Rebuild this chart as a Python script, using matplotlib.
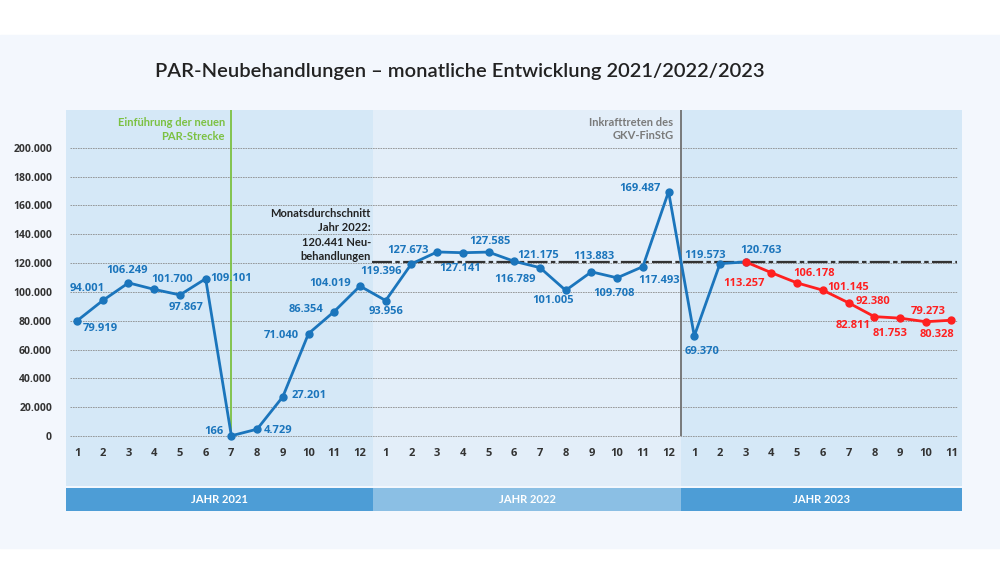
import matplotlib.pyplot as plt
from matplotlib.patches import Rectangle

plt.rcParams['font.family'] = ['Lato', 'DejaVu Sans']
BOLD_FONT = ['Open Sans', 'DejaVu Sans']

# monthly values (PAR-Neubehandlungen)
values_2021 = [79919, 94001, 106249, 101700, 97867, 109101, 166, 4729, 27201, 71040, 86354, 104019]
values_2022 = [93956, 119396, 127673, 127141, 127585, 121175, 116789, 101005, 113883, 109708, 117493, 169487]
values_2023 = [69370, 119573, 120763, 113257, 106178, 101145, 92380, 82811, 81753, 79273, 80328]
months = list(range(1, 13)) + list(range(1, 13)) + list(range(1, 12))
years = ['JAHR 2021', 'JAHR 2022', 'JAHR 2023']
mean_2022 = 120441
y_ticks = [0, 20000, 40000, 60000, 80000, 100000, 120000, 140000, 160000, 180000, 200000]

# label offsets in pixels (dx, dy) relative to the point
blue_offsets = [(23, -8), (-16, 12), (-1, 12), (18, 10), (6, -13), (26, 0),
                (-17, 4), (21, -1), (26, 1), (-27, -2), (-28, 2), (-30, 3),
                (0, -11), (-30, -8), (-29, 1), (-3, -16), (1, 11), (24, 6),
                (-25, -12), (-13, -10), (2, 15), (-3, -16), (16, -14), (-29, 3),
                (8, -16), (-15, 8), (15, 11)]
red_offsets = [(-27, -11), (17, 9), (25, 3), (24, 1), (-21, -9), (-10, -15), (2, 10), (-15, -14)]

BLUE = '#1b75bc'
RED = '#ff2020'


def fmt(v):
    return '{:,}'.format(v).replace(',', '.')


blue_vals = values_2021 + values_2022 + values_2023[:3]
blue_x = list(range(len(blue_vals)))
red_vals = values_2023[2:]
red_x = list(range(len(blue_vals) - 1, len(months)))

fig = plt.figure(figsize=(10, 5.63), dpi=100)
fig.patches.append(Rectangle((0, 15 / 563), 1, 513 / 563, transform=fig.transFigure,
                             color='#f3f7fd', zorder=-10))
fig.text(0.46, 1 - 72 / 563, 'PAR-Neubehandlungen \u2013 monatliche Entwicklung 2021/2022/2023',
         ha='center', va='center', fontsize=14.5, fontweight='semibold', color='#222222')

x_lo, x_hi = -0.43, 34.41
ax = fig.add_axes([0.066, (563 - 486) / 563, 0.896, 376 / 563])
ax.set_facecolor('none')
ax.set_xlim(x_lo, x_hi)
ax.set_ylim(-34690, 226150)
for s in ax.spines.values():
    s.set_visible(False)

ax.axvspan(x_lo, 11.5, color='#d5e8f7', lw=0, zorder=0)
ax.axvspan(11.5, 23.5, color='#e3eef9', lw=0, zorder=0)
ax.axvspan(23.5, x_hi, color='#d5e8f7', lw=0, zorder=0)

ax.hlines(y_ticks, -0.27, 34.2, colors='#8c8c8c', linestyles=(0, (2, 1)), lw=0.6, zorder=1)
ax.set_yticks(y_ticks, [fmt(v) for v in y_ticks])
ax.set_xticks([])
ax.tick_params(axis='y', length=0, pad=10, labelsize=7.5, labelcolor='#333333')
for t in ax.get_yticklabels():
    t.set_fontweight('bold')
    t.set_family(BOLD_FONT)

ax.plot([11.45, 34.2], [mean_2022, mean_2022], color='#333333', lw=1.6,
        linestyle=(0, (9, 1.5, 2, 1.5)), zorder=2)
ax.vlines(6, 0, 226150, colors='#7cc142', lw=1.3, zorder=2)
ax.vlines(23.5, 0, 226150, colors='#707070', lw=1.3, zorder=2)

ax.plot(blue_x, blue_vals, color=BLUE, lw=2, marker='o', ms=5, zorder=4)
ax.plot(red_x, red_vals, color=RED, lw=2, marker='o', ms=5, zorder=4)

for x, v, off in zip(blue_x, blue_vals, blue_offsets):
    ax.annotate(fmt(v), (x, v), xytext=off, textcoords='offset pixels', ha='center', va='center',
                fontsize=8, fontweight='bold', family=BOLD_FONT, color=BLUE, zorder=5)
for x, v, off in zip(red_x[1:], red_vals[1:], red_offsets):
    ax.annotate(fmt(v), (x, v), xytext=off, textcoords='offset pixels', ha='center', va='center',
                fontsize=8, fontweight='bold', family=BOLD_FONT, color=RED, zorder=5)

for i, m in enumerate(months):
    ax.text(i, -11800, str(m), ha='center', va='center', fontsize=8, fontweight='bold',
            family=BOLD_FONT, color='#333333')

ax.text(5.75, 212600, 'Einf\u00fchrung der neuen\nPAR-Strecke', ha='right', va='center',
        fontsize=8, fontweight='bold', color='#7cc142', linespacing=1.3)
ax.text(23.19, 213000, 'Inkrafttreten des\nGKV-FinStG', ha='right', va='center',
        fontsize=8, fontweight='bold', color='#7a7a7a', linespacing=1.3)
ax.text(11.42, 139440, 'Monatsdurchschnitt\nJahr 2022:\n120.441 Neu-\nbehandlungen', ha='right',
        va='center', fontsize=8, fontweight='bold', color='#222222', linespacing=1.4)

# year bars
yax = fig.add_axes([0.066, (563 - 511) / 563, 0.896, 23.5 / 563])
yax.set_xlim(x_lo, x_hi)
yax.set_ylim(0, 1)
yax.axis('off')
spans = [(x_lo, 11.5), (11.5, 23.5), (23.5, x_hi)]
bar_colors = ['#4d9dd6', '#8bbfe4', '#4d9dd6']
for (a, b), c, label in zip(spans, bar_colors, years):
    yax.axvspan(a, b, color=c, lw=0)
    yax.text((a + b) / 2, 0.5, label, ha='center', va='center', fontsize=8,
             fontweight='bold', color='white')

fig.savefig('out.png', dpi=100)
